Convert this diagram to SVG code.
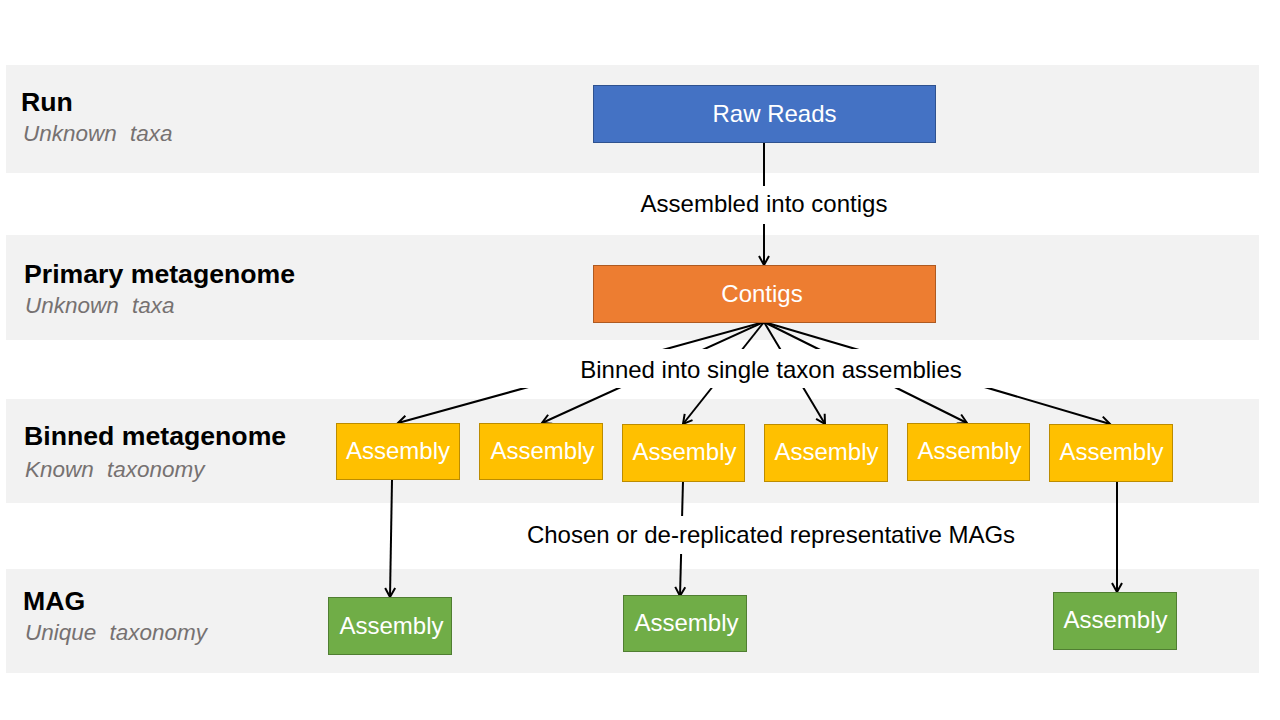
<svg xmlns="http://www.w3.org/2000/svg" width="1280" height="720" viewBox="0 0 1280 720">
<defs>
<style>
.band{fill:#f2f2f2}
.title{font-family:"Liberation Sans",Arial,sans-serif;font-weight:bold;font-size:26.67px;fill:#000}
.sub{font-family:"Liberation Sans",Arial,sans-serif;font-style:italic;font-size:22.5px;fill:#767171;word-spacing:7px}
.ntext{font-family:"Liberation Sans",Arial,sans-serif;font-size:24px;fill:#fff;text-anchor:middle}
.ltext{font-family:"Liberation Sans",Arial,sans-serif;font-size:24px;fill:#000;text-anchor:middle}
.blue{fill:#4472c4;stroke:#2f528f;stroke-width:1}
.orange{fill:#ed7d31;stroke:#ae5a21;stroke-width:1}
.yellow{fill:#ffc000;stroke:#bc8c00;stroke-width:1}
.green{fill:#70ad47;stroke:#507e32;stroke-width:1}
.edge{stroke:#000;stroke-width:2;fill:none;marker-end:url(#arr)}
.lbg{fill:#fff}
</style>
<marker id="arr" markerUnits="userSpaceOnUse" markerWidth="14" markerHeight="14" viewBox="0 0 14 14" refX="12" refY="7" orient="auto">
<path d="M3,2 L12,7 L3,12" fill="none" stroke="#000" stroke-width="2"/>
</marker>
</defs>
<rect width="1280" height="720" fill="#fff"/>
<g id="bands">
<rect class="band" x="6" y="65" width="1253" height="108"/>
<rect class="band" x="6" y="235" width="1253" height="105"/>
<rect class="band" x="6" y="399" width="1253" height="104"/>
<rect class="band" x="6" y="569" width="1253" height="104"/>
<text class="title" x="21" y="111">Run</text>
<text class="sub" x="23" y="141">Unknown taxa</text>
<text class="title" x="24" y="283">Primary metagenome</text>
<text class="sub" x="25" y="313">Unknown taxa</text>
<text class="title" x="24" y="445">Binned metagenome</text>
<text class="sub" x="25" y="477">Known taxonomy</text>
<text class="title" x="23" y="610">MAG</text>
<text class="sub" x="25" y="640">Unique taxonomy</text>
</g>
<g id="connectors">
<line class="edge" x1="764" y1="142" x2="764" y2="265"/>
<line class="edge" x1="764" y1="322" x2="398" y2="423"/>
<line class="edge" x1="764" y1="322" x2="542" y2="423"/>
<line class="edge" x1="764" y1="322" x2="683" y2="424"/>
<line class="edge" x1="764" y1="322" x2="825" y2="424"/>
<line class="edge" x1="764" y1="322" x2="967" y2="423"/>
<line class="edge" x1="764" y1="322" x2="1110" y2="424"/>
<line class="edge" x1="392" y1="480" x2="390" y2="597"/>
<line class="edge" x1="683" y1="481" x2="680" y2="596"/>
<line class="edge" x1="1117" y1="481" x2="1117" y2="592"/>
<rect class="lbg" x="630" y="186" width="268" height="38"/>
<text class="ltext" x="764" y="212">Assembled into contigs</text>
<rect class="lbg" x="518" y="349" width="484" height="39"/>
<text class="ltext" x="771" y="378">Binned into single taxon assemblies</text>
<rect class="lbg" x="518" y="516" width="506" height="38"/>
<text class="ltext" x="771" y="543">Chosen or de-replicated representative MAGs</text>
</g>
<g id="raw-reads">
<rect class="blue" x="593.5" y="85.5" width="342" height="57"/>
<text class="ntext" x="774.5" y="122">Raw Reads</text>
</g>
<g id="contigs">
<rect class="orange" x="593.5" y="265.5" width="342" height="57"/>
<text class="ntext" x="762" y="302">Contigs</text>
</g>
<g id="bin1"><rect class="yellow" x="336.5" y="423.5" width="123" height="56"/><text class="ntext" x="398" y="459">Assembly</text></g>
<g id="bin2"><rect class="yellow" x="479.5" y="423.5" width="123" height="56"/><text class="ntext" x="542.5" y="459">Assembly</text></g>
<g id="bin3"><rect class="yellow" x="622.5" y="424.5" width="122" height="57"/><text class="ntext" x="684.5" y="460">Assembly</text></g>
<g id="bin4"><rect class="yellow" x="764.5" y="424.5" width="123" height="57"/><text class="ntext" x="826.5" y="460">Assembly</text></g>
<g id="bin5"><rect class="yellow" x="907.5" y="423.5" width="122" height="57"/><text class="ntext" x="969.5" y="459">Assembly</text></g>
<g id="bin6"><rect class="yellow" x="1049.5" y="424.5" width="123" height="57"/><text class="ntext" x="1111.5" y="460">Assembly</text></g>
<g id="mag1"><rect class="green" x="328.5" y="597.5" width="123" height="57"/><text class="ntext" x="391.5" y="634">Assembly</text></g>
<g id="mag2"><rect class="green" x="623.5" y="595.5" width="123" height="56"/><text class="ntext" x="686.5" y="631">Assembly</text></g>
<g id="mag3"><rect class="green" x="1053.5" y="592.5" width="123" height="57"/><text class="ntext" x="1115.5" y="628">Assembly</text></g>
</svg>
